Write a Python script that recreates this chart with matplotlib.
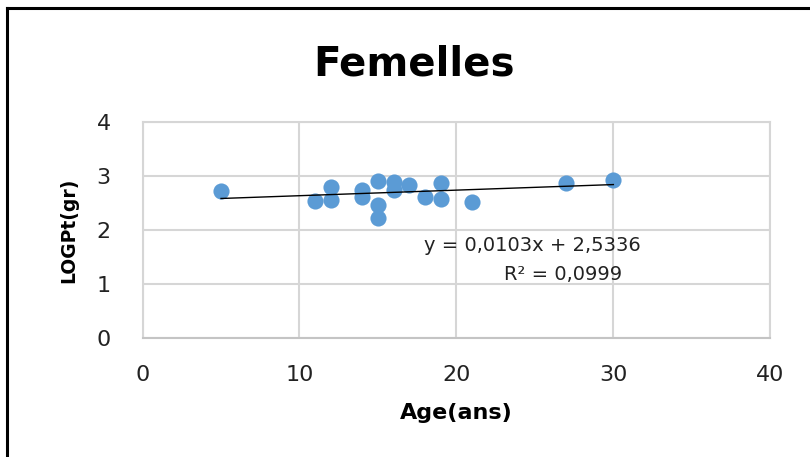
import numpy as np
import matplotlib
matplotlib.use('Agg')
import matplotlib.pyplot as plt
from matplotlib.lines import Line2D

# Data (age in years, log weight)
age = [5, 11, 12, 12, 14, 14, 15, 15, 15, 16, 16, 17, 18, 19, 19, 21, 27, 30]
log_pt = [2.73, 2.54, 2.79, 2.56, 2.75, 2.62, 2.91, 2.47, 2.22, 2.89, 2.74,
          2.83, 2.61, 2.87, 2.58, 2.52, 2.87, 2.93]

# Trendline as reported on the chart
slope = 0.0103
intercept = 2.5336
r2 = 0.0999

x_ticks = [0, 10, 20, 30, 40]
y_ticks = [0, 1, 2, 3, 4]

plt.rcParams['font.family'] = ['DejaVu Sans']

W, H = 810, 457
fig = plt.figure(figsize=(W / 100, H / 100), dpi=100)
ax = fig.add_axes([0.176, 0.260, 0.775, 0.473])

grid_col = '#d6d6d6'
ax.scatter(age, log_pt, s=135, color='#5b9bd5', zorder=3, linewidths=0)

xs = np.array([min(age), max(age)])
ax.plot(xs, slope * xs + intercept, color='black', linewidth=1, zorder=4)

ax.set_xlim(0, 40)
ax.set_ylim(0, 4)
ax.set_xticks(x_ticks)
ax.set_yticks(y_ticks)
ax.grid(True, color=grid_col, linewidth=1.5)
ax.set_axisbelow(True)
for sp in ax.spines.values():
    sp.set_color(grid_col)
    sp.set_linewidth(1.5)
ax.spines['bottom'].set_color('#c4c4c4')
ax.tick_params(length=0, labelsize=16, colors='#222222')
ax.tick_params(axis='x', pad=19)
ax.tick_params(axis='y', pad=23)

# axis titles
fig.text(456 / W, 1 - 413 / H, 'Age(ans)', ha='center', va='center',
         fontsize=16, fontweight='bold')
fig.text(69 / W, 1 - 230 / H, 'LOGPt(gr)', ha='center', va='center',
         rotation=90, fontsize=13.5, fontweight='bold')

# trendline label
eq = f'y = {slope:.4f}x + {intercept:.4f}'.replace('.', ',')
rr = f'R² = {r2:.4f}'.replace('.', ',')
ax.text(24.86, 1.72, eq, ha='center', va='center', fontsize=14, color='#222222')
ax.text(26.77, 1.17, rr, ha='center', va='center', fontsize=14, color='#222222')

fig.text(414 / W, 1 - 75 / H, 'Femelles', ha='center', va='baseline',
         fontsize=29, fontweight='bold', color='black')

# black frame on top and left edge
fig.add_artist(Line2D([0.0086, 0.0086], [0.0, 0.9825], transform=fig.transFigure,
                      color='black', linewidth=2.2))
fig.add_artist(Line2D([0.0086, 1.0], [0.9825, 0.9825], transform=fig.transFigure,
                      color='black', linewidth=2.2))

fig.savefig('out.png', dpi=100)
